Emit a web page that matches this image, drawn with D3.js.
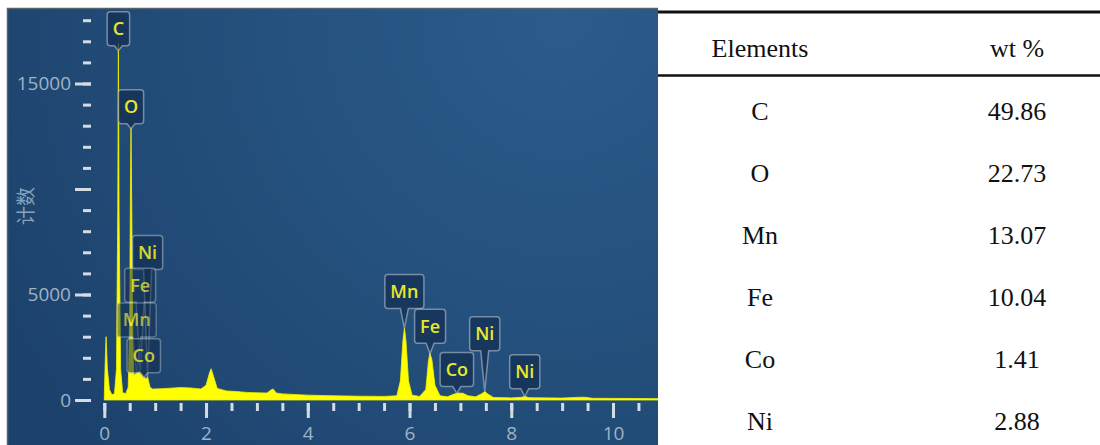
<!DOCTYPE html>
<meta charset="utf-8">
<head>
<script src="https://cdnjs.cloudflare.com/ajax/libs/d3/7.8.5/d3.min.js"></script>
<style>
body { margin:0; background:#fff; }
svg { display:block; }
.ax line { stroke:#d3dbe3; stroke-width:3; }
.ax path { display:none; }
.ax text { fill:#9fb3c7; font-family:'Open Sans',sans-serif; font-size:19px; }
.tag text { fill:#e8e82a; font-family:'Open Sans',sans-serif; font-size:18px; font-weight:600; }
.tbl text { font-family:'Liberation Serif','Times New Roman',serif; font-size:26px; fill:#111; }
</style>
</head>
<body>
<div id="chart"></div>
<script>

// EDS spectrum: [energy keV, counts]
var spectrum = [
  [0.00, 200], [0.02, 2000], [0.035, 3000], [0.06, 1500], [0.10, 500], [0.15, 250],
  [0.20, 300], [0.24, 1500], [0.265, 9000], [0.277, 16900], [0.29, 9000], [0.32, 1500],
  [0.36, 350], [0.42, 300], [0.47, 600], [0.50, 4000], [0.515, 10500], [0.525, 12900],
  [0.54, 9000], [0.56, 3000], [0.58, 1200], [0.62, 1250], [0.68, 1350], [0.72, 1300],
  [0.78, 1100], [0.82, 1000], [0.85, 1100], [0.87, 900], [0.90, 600], [0.95, 520],
  [1.1, 530], [1.3, 560], [1.5, 590], [1.7, 570], [1.9, 520], [2.0, 700], [2.07, 1300],
  [2.1, 1480], [2.15, 1100], [2.22, 550], [2.4, 430], [2.6, 400], [2.8, 360], [3.0, 340],
  [3.2, 330], [3.28, 480], [3.32, 520], [3.38, 330], [3.5, 290], [4.0, 230], [4.5, 200],
  [5.0, 180], [5.5, 170], [5.75, 200], [5.82, 900], [5.87, 2800], [5.90, 3420], [5.93, 2800],
  [5.98, 900], [6.05, 230], [6.2, 170], [6.32, 500], [6.37, 1800], [6.40, 2230], [6.44, 1900],
  [6.5, 700], [6.6, 200], [6.75, 150], [6.85, 260], [6.95, 330], [7.05, 320], [7.15, 200],
  [7.3, 150], [7.42, 300], [7.48, 400], [7.54, 280], [7.65, 120], [8.0, 100], [8.2, 130],
  [8.27, 170], [8.35, 110], [9.0, 90], [9.35, 130], [9.45, 130], [9.6, 80], [10.5, 70], [11.2, 60]
];

// peak tags: element, line energy, count level of the tag's top edge
var tagNames  = ['C', 'O', 'Ni', 'Fe', 'Mn', 'Co', 'Mn', 'Fe', 'Co', 'Ni', 'Ni'];
var tagKeV    = [0.277, 0.525, 0.851, 0.705, 0.637, 0.776, 5.899, 6.404, 6.930, 7.478, 8.265];
var tagLevel  = [18400, 14700, 7800, 6250, 4600, 2900, 5950, 4300, 2250, 3950, 2150];
var tagAlpha  = [1, 1, 0.9, 0.75, 0.65, 0.8, 1, 1, 1, 1, 1];

var yTicks = [0, 5000, 10000, 15000];
var yTickLabels = ['0', '5000', '', '15000'];
var xTicks = [0, 2, 4, 6, 8, 10];
var yTitle = '计数';

// table on the right
var tableHeader = ['Elements', 'wt %'];
var elements = ['C', 'O', 'Mn', 'Fe', 'Co', 'Ni'];
var wtPercent = ['49.86', '22.73', '13.07', '10.04', '1.41', '2.88'];

var W = 1100, H = 445;
var svg = d3.select('#chart').append('svg').attr('width', W).attr('height', H);
var defs = svg.append('defs');

var grad = defs.append('radialGradient').attr('id', 'bg')
  .attr('gradientUnits', 'userSpaceOnUse')
  .attr('cx', 560).attr('cy', 20).attr('r', 640);
grad.append('stop').attr('offset', '0').attr('stop-color', '#2b5c8b');
grad.append('stop').attr('offset', '0.45').attr('stop-color', '#25517e');
grad.append('stop').attr('offset', '1').attr('stop-color', '#1c426c');

defs.append('clipPath').attr('id', 'clip')
  .append('rect').attr('x', 7).attr('y', 8).attr('width', 651).attr('height', 437);

// spectrum panel
svg.append('rect').attr('x', 7).attr('y', 8).attr('width', 651).attr('height', 437)
  .attr('fill', 'url(#bg)');
svg.append('path').attr('d', 'M7.5,445V8.5H658').attr('fill', 'none')
  .attr('stroke', '#58626c').attr('stroke-width', 1.5);

var x = d3.scaleLinear().domain([0, 10]).range([104.3, 613]);
var y = d3.scaleLinear().domain([0, 15000]).range([400, 83.5]);

svg.append('g').attr('class', 'ax').attr('transform', 'translate(91,0)')
  .call(d3.axisLeft(y).tickValues(d3.range(0, 19000, 1000)).tickSize(8).tickFormat(''));
svg.append('g').attr('class', 'ax').attr('transform', 'translate(91,0)')
  .call(d3.axisLeft(y).tickValues(yTicks).tickSize(16).tickPadding(4)
    .tickFormat(function(d, i) { return yTickLabels[i]; }));

svg.append('g').attr('class', 'ax').attr('transform', 'translate(0,403)')
  .call(d3.axisBottom(x).tickValues(d3.range(0, 11, 0.5)).tickSize(8).tickFormat(''));
svg.append('g').attr('class', 'ax').attr('transform', 'translate(0,403)')
  .call(d3.axisBottom(x).tickValues(xTicks).tickSize(15).tickPadding(9));

svg.append('text')
  .attr('transform', 'translate(26,206) rotate(-90)')
  .attr('text-anchor', 'middle').attr('dy', '0.35em')
  .style('font-family', "'Noto Sans CJK SC',sans-serif").style('font-size', '19px')
  .style('fill', '#88a2bc')
  .text(yTitle);

var plot = svg.append('g').attr('clip-path', 'url(#clip)');

var area = d3.area()
  .x(function(d) { return x(d[0]); })
  .y0(y(0))
  .y1(function(d) { return y(d[1]); });

plot.append('path').datum(spectrum)
  .attr('d', area)
  .attr('fill', '#ffff00')
  .attr('stroke', '#f2f200').attr('stroke-width', 0.8);

// counts of the spectrum at a given energy (between read points)
function countsAt(e) {
  for (var k = 1; k < spectrum.length; k++) {
    if (spectrum[k][0] >= e) {
      var a = spectrum[k - 1], b = spectrum[k];
      return a[1] + (b[1] - a[1]) * (e - a[0]) / (b[0] - a[0]);
    }
  }
  return 0;
}

var tagData = tagNames.map(function(n, i) {
  return { name: n, kev: tagKeV[i], level: tagLevel[i], alpha: tagAlpha[i] };
});

var tags = plot.selectAll('g.tag').data(tagData).enter()
  .append('g').attr('class', 'tag')
  .style('opacity', function(d) { return d.alpha; });

tags.each(function(d) {
  var g = d3.select(this);
  var cx = x(d.kev), top = y(d.level), bh = 34;
  var t = g.append('text')
    .attr('x', cx).attr('y', top + bh / 2).attr('dy', '0.36em')
    .attr('text-anchor', 'middle')
    .text(d.name);
  var w = t.node().getComputedTextLength() + 11;
  var x0 = cx - w / 2, x1 = cx + w / 2, b = top + bh, r = 3;
  var tip = Math.max(y(countsAt(d.kev)), b + 5);
  var p = 'M' + (x0 + r) + ',' + top + 'H' + (x1 - r) + 'Q' + x1 + ',' + top + ' ' + x1 + ',' + (top + r) +
    'V' + (b - r) + 'Q' + x1 + ',' + b + ' ' + (x1 - r) + ',' + b +
    'H' + (cx + 4) + 'L' + cx + ',' + tip + 'L' + (cx - 4) + ',' + b +
    'H' + (x0 + r) + 'Q' + x0 + ',' + b + ' ' + x0 + ',' + (b - r) +
    'V' + (top + r) + 'Q' + x0 + ',' + top + ' ' + (x0 + r) + ',' + top + 'Z';
  g.insert('path', 'text').attr('d', p)
    .attr('fill', 'rgba(20,46,80,0.72)')
    .attr('stroke', 'rgba(178,192,206,0.6)').attr('stroke-width', 1.5);
});

// composition table
var tbl = svg.append('g').attr('class', 'tbl');
var colX = d3.scalePoint().domain([0, 1]).range([760, 1017]);
var rowY = d3.scalePoint().domain(elements).range([120, 430]);

tbl.append('line').attr('x1', 658).attr('x2', W).attr('y1', 12).attr('y2', 12)
  .attr('stroke', '#111').attr('stroke-width', 3);
tbl.append('line').attr('x1', 658).attr('x2', W).attr('y1', 75.5).attr('y2', 75.5)
  .attr('stroke', '#111').attr('stroke-width', 2.5);

tbl.selectAll('text.head').data(tableHeader).enter()
  .append('text').attr('class', 'head')
  .attr('x', function(d, i) { return colX(i); }).attr('y', 57)
  .attr('text-anchor', 'middle')
  .text(function(d) { return d; });

var rows = tbl.selectAll('g.row').data(elements).enter()
  .append('g').attr('class', 'row');
rows.append('text')
  .attr('x', colX(0)).attr('y', function(d) { return rowY(d); })
  .attr('text-anchor', 'middle')
  .text(function(d) { return d; });
rows.append('text')
  .attr('x', colX(1)).attr('y', function(d) { return rowY(d); })
  .attr('text-anchor', 'middle')
  .text(function(d, i) { return wtPercent[i]; });

</script>
</body>
